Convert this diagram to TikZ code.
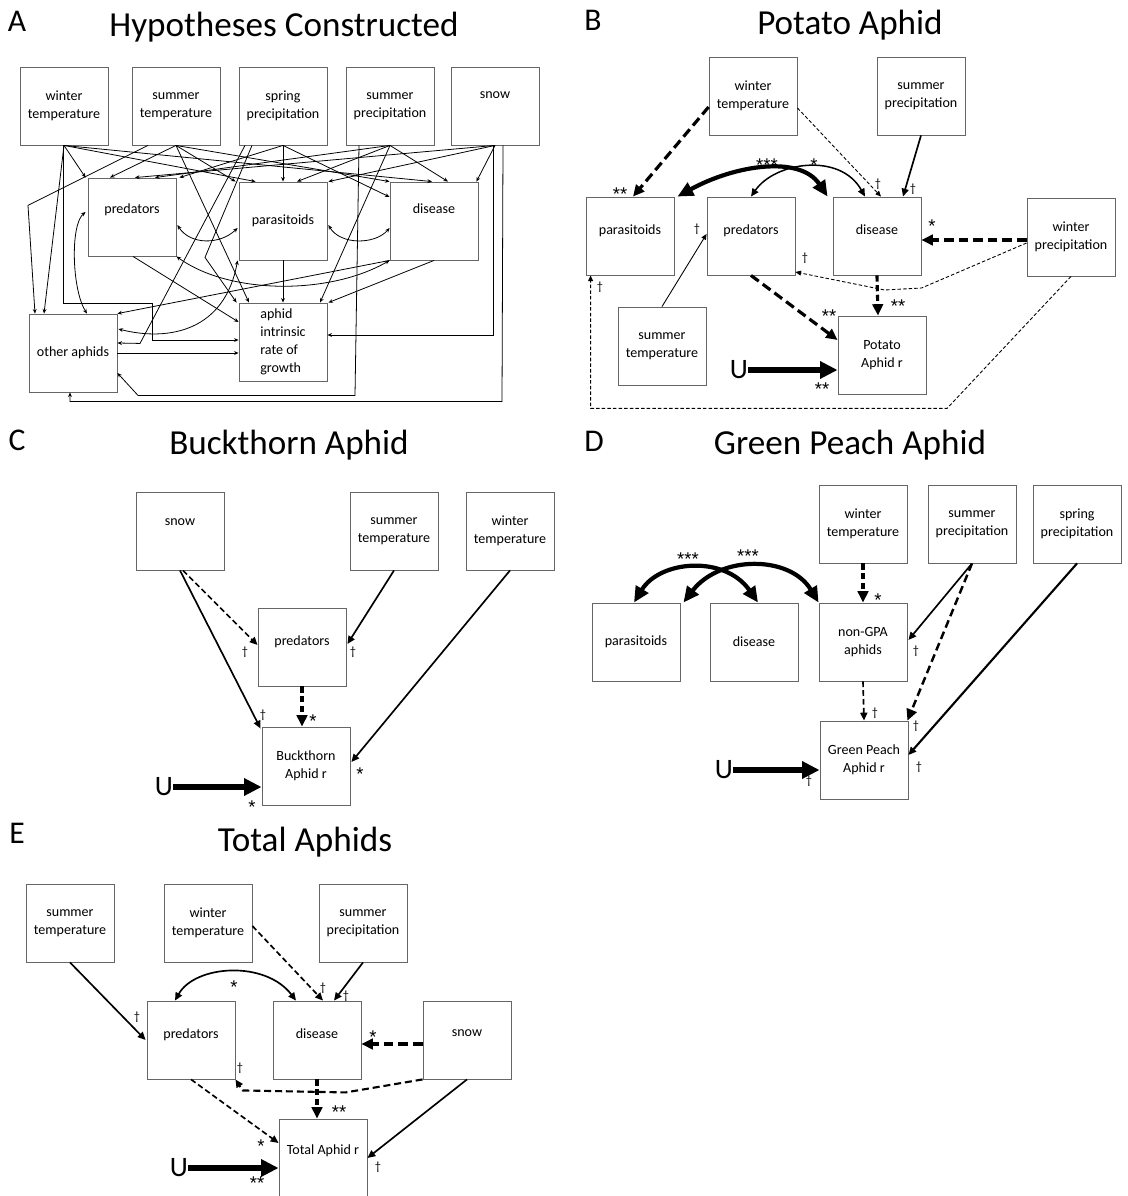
\documentclass[tikz,border=0pt]{standalone}
\usepackage{fontspec}
\setmainfont{Carlito}
\newfontfamily\starfont{Liberation Sans}
\usetikzlibrary{arrows.meta, calc}

\newcommand{\lift}[2]{\raisebox{#1}[0pt][0pt]{#2}}

\tikzset{
  box/.style={draw=black!60, line width=0.5pt, minimum width=1.76cm, minimum height=1.56cm,
    inner sep=1pt, align=center, font=\fontsize{8}{10.2}\selectfont},
  ttl/.style={font=\fontsize{20}{22}\selectfont, inner sep=0pt},
  pan/.style={font=\fontsize{18}{20}\selectfont, inner sep=0pt},
  sig/.style={font=\starfont\fontsize{10.5}{11}\selectfont, inner sep=0pt, yshift=-2.2pt},
  dag/.style={font=\fontsize{7}{7}\selectfont, inner sep=0pt},
  ulbl/.style={font=\fontsize{16}{16}\selectfont, inner sep=0pt},
  hyp/.style={-{Stealth[length=2.6pt,width=2.2pt]}, line width=0.45pt},
  hyp2/.style={{Stealth[length=2.6pt,width=2.2pt]}-{Stealth[length=2.6pt,width=2.2pt]}, line width=0.45pt},
  thn/.style={-{Triangle[length=3.2pt,width=2.8pt]}, line width=0.5pt},
  med/.style={-{Triangle[length=4.5pt,width=4pt]}, line width=0.95pt},
  med2/.style={{Triangle[length=4.5pt,width=4pt]}-{Triangle[length=4.5pt,width=4pt]}, line width=0.95pt},
  thk/.style={-{Triangle[length=6.5pt,width=6pt]}, line width=1.8pt},
  hvy/.style={{Triangle[length=9pt,width=8pt]}-{Triangle[length=9pt,width=8pt]}, line width=2.4pt},
  uarr/.style={-{Triangle[length=10pt,width=9.5pt]}, line width=3.3pt},
  dsm/.style={dash pattern=on 2pt off 1.2pt},
  dmd/.style={dash pattern=on 3.2pt off 1.8pt},
  dlg/.style={dash pattern=on 5.5pt off 2.8pt},
  dvt/.style={dash pattern=on 3.5pt off 2pt},
}

\begin{document}
\begin{tikzpicture}[x=0.02cm, y=-0.02cm]
\useasboundingbox (0,0) rectangle (1127,1196);

% A: the full hypothesis
\node[pan] (lA) at (17,21) {A};
\node[ttl] (tA) at (284,27) {Hypotheses Constructed};
\node[box] (aWT)   at (64,106)  {winter\\temperature};
\node[box] (aST)   at (176,106) {summer\\temperature};
\node[box] (aSpP)  at (283,106) {spring\\precipitation};
\node[box] (aSuP)  at (390,106) {summer\\precipitation};
\node[box] (aSnow) at (495,106) {\lift{4.2pt}{snow}};
\node[box] (aPred) at (132,217) {\lift{2pt}{predators}};
\node[box] (aPara) at (283,221) {parasitoids};
\node[box] (aDis)  at (434,221) {\lift{4.2pt}{disease}};
\node[box] (aOth)  at (73,353)  {other aphids};
\node[box, align=left] (aR) at (283,342) {aphid\\intrinsic\\rate of\\growth};

% winter temperature
\draw[hyp] (aWT.south) -- ($(aPred.north west)+(-2,0)$);
\draw[hyp] (aWT.south) -- ($(aPara.north west)+(17,0)$);
\draw[hyp] (aWT.south) -- ($(aDis.north)+(-2,0)$);
\draw[hyp] (aWT.south) -- ($(aOth.north)+(-29,0)$);
\draw[hyp] ($(aWT.south)+(-1,0)$) -- ++(0,158) -- ++(89,0) |- ($(aR.west)+(0,-2)$);
% summer temperature
\draw[hyp] (aST.south) -- ($(aPred.north)+(-22,0)$);
\draw[hyp] (aST.south) -- ($(aPara.north west)+(-3,0)$);
\draw[hyp] (aST.south) -- (aDis.north west);
\draw[hyp] ($(aST.south)+(-28,0)$) -- ++(-120,60) -- ($(aOth.north)+(-38,0)$);
\draw[hyp] (aST.south) -- ($(aR.north)+(-34,0)$);
% spring precipitation
\draw[hyp] (aSpP.south) -- ($(aPred.north east)+(3,0)$);
\draw[hyp] (aSpP.south) -- (aPara.north);
\draw[hyp] (aSpP.south) -- ($(aDis.west)+(0,-24)$);
\draw[hyp] ($(aSpP.south)+(-38,0)$) -- ++(-105,198) -- ($(aOth.east)+(0,-10)$);
\draw[hyp] ($(aSpP.south)+(-31,0)$) -- ++(-47,112) -- ($(aR.north west)+(-2,0)$);
% summer precipitation
\draw[hyp] (aSuP.south) -- ($(aPred.north)+(23,0)$);
\draw[hyp] (aSuP.south) -- ($(aPara.north)+(14,0)$);
\draw[hyp] (aSuP.south) -- ($(aDis.north)+(14,0)$);
\draw[hyp] ($(aSuP.south)+(-31,0)$) -- ++(-4,250) -- ++(-217,0) -- ($(aOth.east)+(0,20)$);
\draw[hyp] (aSuP.south) -- ($(aR.north)+(37,0)$);
% snow
\draw[hyp] (aSnow.south) -- ($(aPred.north)+(3,0)$);
\draw[hyp] (aSnow.south) -- ($(aPara.north east)+(1,0)$);
\draw[hyp] (aSnow.south) -- ($(aDis.north east)+(-2,0)$);
\draw[hyp] ($(aSnow.south)+(8,0)$) -- ++(-1,256) -| ($(aOth.south)+(-3,0)$);
\draw[hyp] ($(aSnow.south)+(-2,0)$) |- ($(aR.east)+(0,-7)$);
% enemies and other aphids
\draw[hyp] ($(aPred.south)+(1,0)$) -- ($(aR.west)+(0,-20)$);
\draw[hyp] (aPara.south) -- (aR.north);
\draw[hyp] (aDis.south) -- ($(aR.north east)+(1,0)$);
\draw[hyp] (aDis.south west) -- (aOth.north east);
\draw[hyp] (aOth.east) -- (aOth.east -| aR.west);
\draw[hyp2] ($(aPred.east)+(1,8)$) .. controls (190,245) and (220,245) .. ($(aPara.west)+(-1,7)$);
\draw[hyp2] ($(aPara.east)+(1,4)$) .. controls (340,245) and (375,245) .. ($(aDis.west)+(0,7)$);
\draw[hyp2] ($(aPred.west)+(-2,-5)$) .. controls (70,225) and (72,290) .. ($(aOth.north)+(14,0)$);
\draw[hyp2] ($(aOth.east)+(1,-24)$) .. controls (170,342) and (225,330) .. ($(aPara.south west)+(-1,0)$);
\draw[hyp2] (aPred.south east) .. controls (230,295) and (330,295) .. (aDis.south west);

% B: potato aphid
\node[pan] (lB) at (593,20) {B};
\node[ttl] (tB) at (850,25) {Potato Aphid};
\node[box] (bWT)   at (753,96)  {winter\\temperature};
\node[box] (bSuP)  at (921,96)  {summer\\precipitation};
\node[box] (bPara) at (630,236) {\lift{0.8pt}{parasitoids}};
\node[box] (bPred) at (751,236) {\lift{0.8pt}{predators}};
\node[box] (bDis)  at (877,236) {\lift{0.8pt}{disease}};
\node[box] (bWP)   at (1071,237) {winter\\precipitation};
\node[box] (bST)   at (662,346) {summer\\temperature};
\node[box] (bR)    at (882,355) {Potato\\Aphid r};
\node[ulbl] (bU)   at (739,370) {U};

\draw[thk, dlg] ($(bWT.west)+(0,11)$) -- ($(bPara.north)+(3,0)$);
\draw[thn, dsm] ($(bWT.east)+(0,12)$) -- ($(bDis.north)+(4,0)$);
\draw[med] (bSuP.south) -- ($(bDis.north)+(26,0)$);
\draw[hvy] ($(bPara.north east)+(3,0)$) .. controls (735,165) and (800,155) .. ($(bDis.north west)+(-5,0)$);
\draw[med2, line width=0.85pt] (bPred.north) .. controls (775,162) and (840,152) .. ($(bDis.north)+(-12,0)$);
\draw[thk, dlg] ($(bWP.west)+(0,3)$) -- ($(bDis.east)+(0,4)$);
\draw[thn, dsm] ($(bWP.west)+(0,6)$) -- ++(-105,45) -- ++(-37,2) -- ($(bPred.east)+(0,36)$);
\draw[thn, dsm] (bWP.south) -- ++(-124,132) -| ($(bPara.south west)+(5,0)$);
\draw[thn] (bST.north) -- ($(bPred.west)+(0,-2)$);
\draw[thk, dlg] (bPred.south) -- ($(bR.west)+(0,-15)$);
\draw[thk, dvt] (bDis.south) -- ($(bR.north)+(-4,0)$);
\draw[uarr] (bU.east) -- (bU.east -| bR.west);

\node[sig] (bS1)  at (620,190) {**};
\node[dag] (bS2)  at (878,184) {\textdagger};
\node[dag] (bS3)  at (913,189) {\textdagger};
\node[sig] (bS4)  at (767,161) {***};
\node[sig] (bS5)  at (814,161) {*};
\node[sig] (bS6)  at (932,222) {*};
\node[dag] (bS7)  at (805,258) {\textdagger};
\node[dag] (bS8)  at (600,287) {\textdagger};
\node[dag] (bS9)  at (697,229) {\textdagger};
\node[sig] (bS10) at (829,312) {**};
\node[sig] (bS11) at (898,302) {**};
\node[sig] (bS12) at (822,385) {**};

% C: buckthorn aphid
\node[pan] (lC) at (17,440) {C};
\node[ttl] (tC) at (289,445) {Buckthorn Aphid};
\node[box] (cSnow) at (180,531) {\lift{3.1pt}{snow}};
\node[box] (cST)   at (394,531) {summer\\temperature};
\node[box] (cWT)   at (510,531) {winter\\temperature};
\node[box] (cPred) at (302,647) {\lift{0.8pt}{predators}};
\node[box] (cR)    at (306,766) {Buckthorn\\Aphid r};
\node[ulbl] (cU)   at (164,787) {U};

\draw[med, dmd] ($(cSnow.south)+(3,0)$) -- ($(cPred.west)+(0,-2)$);
\draw[med] (cSnow.south) -- ($(cR.north west)+(-1,2)$);
\draw[med] (cST.south) -- ($(cPred.east)+(1,-3)$);
\draw[thk, dvt] (cPred.south) -- ($(cR.north)+(-4,0)$);
\draw[med] (cWT.south) -- ($(cR.east)+(1,-4)$);
\draw[uarr] (cU.east) -- (cU.east -| cR.west);

\node[dag] (cS1) at (245,652) {\textdagger};
\node[dag] (cS2) at (263,715) {\textdagger};
\node[dag] (cS3) at (353,652) {\textdagger};
\node[sig] (cS4) at (313,717) {*};
\node[sig] (cS5) at (360,770) {*};
\node[sig] (cS6) at (252,803) {*};

% D: green peach aphid
\node[pan] (lD) at (594,441) {D};
\node[ttl] (tD) at (850,445) {Green Peach Aphid};
\node[box] (dWT)   at (863,524)  {winter\\temperature};
\node[box] (dSuP)  at (972,524)  {summer\\precipitation};
\node[box] (dSpP)  at (1077,524) {spring\\precipitation};
\node[box] (dPara) at (636,642)  {parasitoids};
\node[box] (dDis)  at (754,642)  {disease};
\node[box] (dNon)  at (863,642)  {non-GPA\\aphids};
\node[box] (dR)    at (864,760)  {Green Peach\\Aphid r};
\node[ulbl] (dU)   at (724,770)  {U};

\draw[hvy] ($(dPara.north)+(-2,0)$) .. controls (660,560) and (725,555) .. ($(dDis.north)+(4,0)$);
\draw[hvy] ($(dPara.north east)+(3,0)$) .. controls (720,555) and (790,555) .. (dNon.north west);
\draw[thk, dvt] (dWT.south) -- (dNon.north);
\draw[med] (dSuP.south) -- ($(dNon.east)+(1,-2)$);
\draw[thk, line width=1.4pt, dash pattern=on 4.5pt off 2.5pt] (dSuP.south) -- ($(dR.north east)+(-1,0)$);
\draw[med, line width=1.2pt] (dSpP.south) -- ($(dR.east)+(0,-5)$);
\draw[med, dmd] (dNon.south) -- (dR.north);
\draw[uarr] (dU.east) -- (dU.east -| dR.west);

\node[sig] (dS1) at (688,555) {***};
\node[sig] (dS2) at (748,552) {***};
\node[sig] (dS3) at (878,596) {*};
\node[dag] (dS4) at (916,651) {\textdagger};
\node[dag] (dS5) at (916,726) {\textdagger};
\node[dag] (dS6) at (919,767) {\textdagger};
\node[dag] (dS7) at (875,713) {\textdagger};
\node[dag] (dS8) at (809,781) {\textdagger};

% E: total aphids
\node[pan] (lE) at (17,833) {E};
\node[ttl] (tE) at (305,842) {Total Aphids};
\node[box] (eST)   at (70,923)   {summer\\temperature};
\node[box] (eWT)   at (208,923)  {winter\\temperature};
\node[box] (eSuP)  at (363,923)  {summer\\precipitation};
\node[box] (ePred) at (191,1040) {\lift{0.8pt}{predators}};
\node[box] (eDis)  at (317,1040) {\lift{0.8pt}{disease}};
\node[box] (eSnow) at (467,1040) {\lift{2pt}{snow}};
\node[box] (eR)    at (323,1158) {\lift{2pt}{Total Aphid r}};
\node[ulbl] (eU)   at (179,1168) {U};

\draw[med] (eST.south) -- ($(ePred.west)+(-1,0)$);
\draw[med, dmd] ($(eWT.east)+(0,3)$) -- ($(eDis.north)+(6,0)$);
\draw[med] (eSuP.south) -- ($(eDis.north)+(17,0)$);
\draw[med2] ($(ePred.north)+(-16,0)$) .. controls (195,965) and (265,960) .. ($(eDis.north)+(-21,0)$);
\draw[thk, dlg] ($(eSnow.west)+(0,4)$) -- ($(eDis.east)+(0,4)$);
\draw[med, line width=1.2pt, dash pattern=on 4pt off 2.2pt] (eSnow.south west) -- ++(-77,13) -- ++(-103,-2) -- (ePred.south east);
\draw[thk, dvt] (eDis.south) -- ($(eR.north)+(-6,0)$);
\draw[med, dmd] (ePred.south) -- ($(eR.west)+(0,-15)$);
\draw[med] (eSnow.south) -- (eR.east);
\draw[uarr] (eU.east) -- (eU.east -| eR.west);

\node[dag] (eS1)  at (137,1017) {\textdagger};
\node[dag] (eS2)  at (323,988)  {\textdagger};
\node[dag] (eS3)  at (346,996)  {\textdagger};
\node[sig] (eS4)  at (234,983)  {*};
\node[sig] (eS5)  at (373,1033) {*};
\node[dag] (eS6)  at (240,1068) {\textdagger};
\node[sig] (eS7)  at (339,1108) {**};
\node[sig] (eS8)  at (261,1142) {*};
\node[dag] (eS9)  at (378,1167) {\textdagger};
\node[sig] (eS10) at (257,1179) {**};
\end{tikzpicture}
\end{document}
